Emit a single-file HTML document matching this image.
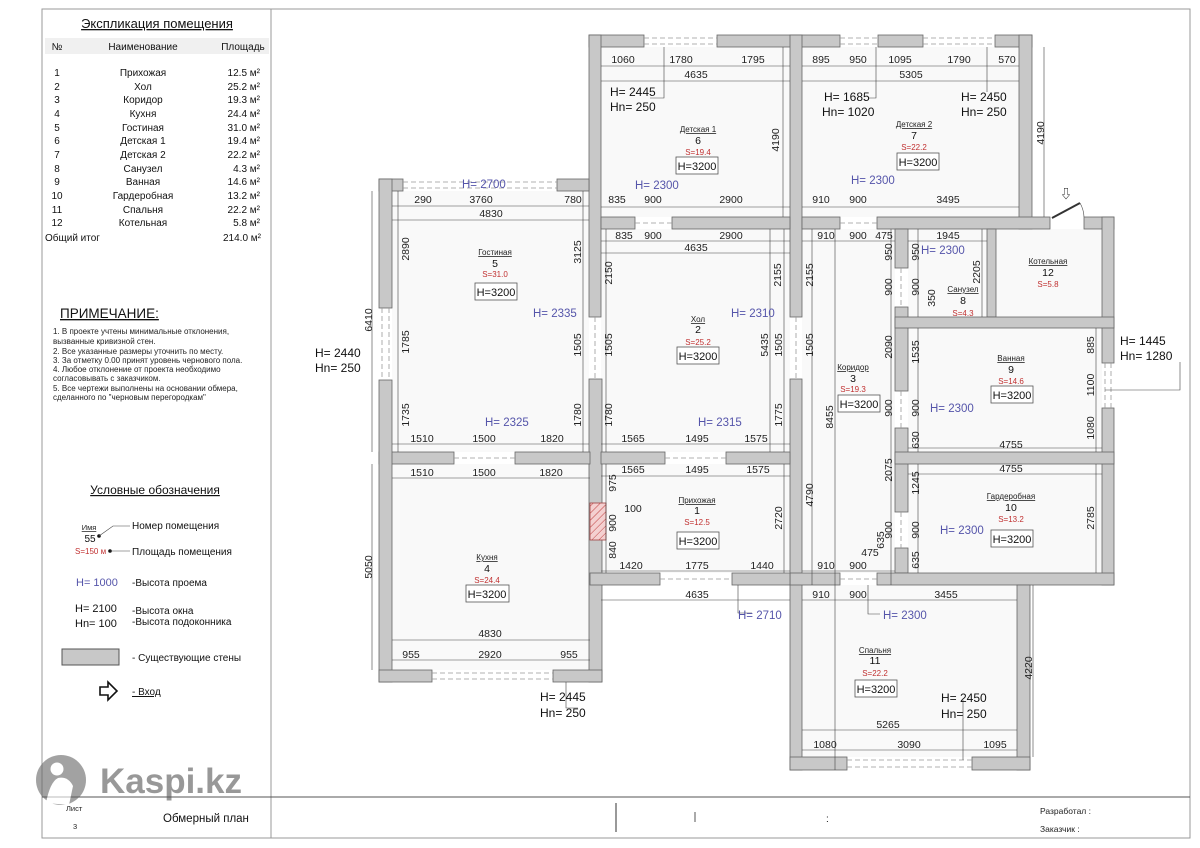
<!DOCTYPE html>
<html><head><meta charset="utf-8">
<style>
html,body{margin:0;padding:0;background:#fff;}
svg{display:block;font-family:"Liberation Sans","Noto Sans CJK SC",sans-serif;}
.d{font-size:10.5px;fill:#222;text-anchor:middle;}
.h{font-size:11.5px;fill:#5555aa;}
.w{font-size:12px;fill:#111;}
.rn{font-size:8px;fill:#222;text-anchor:middle;text-decoration:underline;}
.num{font-size:10.5px;fill:#111;text-anchor:middle;}
.s{font-size:8px;fill:#c03030;text-anchor:middle;}
.bx{font-size:11px;fill:#111;text-anchor:middle;}
.wall{fill:#c8c8c8;stroke:#666;stroke-width:0.8;}
.dl{stroke:#444;stroke-width:0.6;fill:none;}
.dash{stroke:#999;stroke-width:0.8;stroke-dasharray:5,3;fill:none;}
.t{font-size:10px;fill:#111;}
</style></head><body>
<svg width="1200" height="848" viewBox="0 0 1200 848" xmlns="http://www.w3.org/2000/svg">
<rect x="42" y="9" width="1148" height="829" fill="#fff" stroke="#999" stroke-width="1"/>
<line x1="271" y1="9" x2="271" y2="838" stroke="#999"/>
<line x1="42" y1="797" x2="1190" y2="797" stroke="#555"/>
<line x1="616" y1="803" x2="616" y2="832" stroke="#555" stroke-width="1.2"/>
<line x1="695" y1="812" x2="695" y2="822" stroke="#555"/>
<text x="826" y="822" class="t">:</text>

<rect x="45" y="38" width="224" height="16" fill="#f0f0f0"/>
<text x="157" y="28" font-size="13" text-anchor="middle" text-decoration="underline" fill="#111">Экспликация помещения</text>
<g font-size="10" fill="#111">
<text x="57" y="50" text-anchor="middle">№</text>
<text x="143" y="50" text-anchor="middle">Наименование</text>
<text x="243" y="50" text-anchor="middle">Площадь</text>
</g>
<g font-size="10" fill="#111">
<text x="57" y="76" text-anchor="middle">1</text><text x="143" y="76" text-anchor="middle">Прихожая</text><text x="260" y="76" text-anchor="end">12.5 м²</text>
<text x="57" y="90" text-anchor="middle">2</text><text x="143" y="90" text-anchor="middle">Хол</text><text x="260" y="90" text-anchor="end">25.2 м²</text>
<text x="57" y="103" text-anchor="middle">3</text><text x="143" y="103" text-anchor="middle">Коридор</text><text x="260" y="103" text-anchor="end">19.3 м²</text>
<text x="57" y="117" text-anchor="middle">4</text><text x="143" y="117" text-anchor="middle">Кухня</text><text x="260" y="117" text-anchor="end">24.4 м²</text>
<text x="57" y="131" text-anchor="middle">5</text><text x="143" y="131" text-anchor="middle">Гостиная</text><text x="260" y="131" text-anchor="end">31.0 м²</text>
<text x="57" y="144" text-anchor="middle">6</text><text x="143" y="144" text-anchor="middle">Детская 1</text><text x="260" y="144" text-anchor="end">19.4 м²</text>
<text x="57" y="158" text-anchor="middle">7</text><text x="143" y="158" text-anchor="middle">Детская 2</text><text x="260" y="158" text-anchor="end">22.2 м²</text>
<text x="57" y="172" text-anchor="middle">8</text><text x="143" y="172" text-anchor="middle">Санузел</text><text x="260" y="172" text-anchor="end">4.3 м²</text>
<text x="57" y="185" text-anchor="middle">9</text><text x="143" y="185" text-anchor="middle">Ванная</text><text x="260" y="185" text-anchor="end">14.6 м²</text>
<text x="57" y="199" text-anchor="middle">10</text><text x="143" y="199" text-anchor="middle">Гардеробная</text><text x="260" y="199" text-anchor="end">13.2 м²</text>
<text x="57" y="213" text-anchor="middle">11</text><text x="143" y="213" text-anchor="middle">Спальня</text><text x="260" y="213" text-anchor="end">22.2 м²</text>
<text x="57" y="226" text-anchor="middle">12</text><text x="143" y="226" text-anchor="middle">Котельная</text><text x="260" y="226" text-anchor="end">5.8 м²</text>
<text x="45" y="241">Общий итог</text><text x="261" y="241" text-anchor="end">214.0 м²</text>
</g>
<text x="60" y="318" font-size="13.5" fill="#111" text-decoration="underline">ПРИМЕЧАНИЕ:</text>
<g font-size="8" fill="#222">
<text x="53" y="334">1. В проекте учтены минимальные отклонения,</text>
<text x="53" y="344">вызванные кривизной стен.</text>
<text x="53" y="354">2. Все указанные размеры уточнить по месту.</text>
<text x="53" y="363">3. За отметку 0.00 принят уровень чернового пола.</text>
<text x="53" y="372">4. Любое отклонение от проекта необходимо</text>
<text x="53" y="381">согласовывать с заказчиком.</text>
<text x="53" y="391">5. Все чертежи выполнены на основании обмера,</text>
<text x="53" y="400">сделанного по "черновым перегородкам"</text>
</g>
<text x="155" y="494" font-size="12" fill="#111" text-anchor="middle" text-decoration="underline">Условные обозначения</text>
<text x="89" y="530" font-size="7.5" fill="#222" text-anchor="middle" text-decoration="underline">Имя</text>
<text x="90" y="542" font-size="10" fill="#111" text-anchor="middle">55</text>
<circle cx="99" cy="536" r="1.8" fill="#111"/>
<polyline points="99,536 113,526 130,526" class="dl"/>
<text x="132" y="529" font-size="10" fill="#111">Номер помещения</text>
<text x="75" y="554" font-size="8" fill="#c03030">S=150 м</text>
<circle cx="110" cy="551" r="1.8" fill="#111"/>
<line x1="110" y1="551" x2="130" y2="551" class="dl"/>
<text x="132" y="555" font-size="10" fill="#111">Площадь помещения</text>
<text x="76" y="586" font-size="11" fill="#5555aa">H= 1000</text>
<text x="132" y="586" font-size="10" fill="#111">-Высота проема</text>
<text x="75" y="612" font-size="11" fill="#111">H= 2100</text>
<text x="75" y="627" font-size="11" fill="#111">Hn= 100</text>
<text x="132" y="614" font-size="10" fill="#111">-Высота окна</text>
<text x="132" y="625" font-size="10" fill="#111">-Высота подоконника</text>
<rect x="62" y="649" width="57" height="16" fill="#c8c8c8" stroke="#555"/>
<text x="132" y="661" font-size="10" fill="#111">- Существующие стены</text>
<path d="M100,687 h8 v-5 l9,9 l-9,9 v-5 h-8 z" fill="#fff" stroke="#111" stroke-width="1.6"/>
<text x="132" y="695" font-size="10" fill="#111" text-decoration="underline">- Вход</text>
<!-- kaspi watermark -->
<g opacity="0.6">
<circle cx="61" cy="780" r="25" fill="#666"/>
<circle cx="57" cy="769" r="6.5" fill="#fff"/>
<path d="M46,803 q4,-21 12,-25 q10,-2 15,8 l-4,19z" fill="#fff"/>
<text x="100" y="793" font-size="35" font-weight="bold" fill="#555">Kaspi.kz</text>
</g>
<text x="66" y="811" font-size="7.5" fill="#222">Лист</text>
<text x="73" y="829" font-size="7.5" fill="#222">3</text>
<text x="163" y="822" font-size="11.5" fill="#111">Обмерный план</text>
<text x="1040" y="814" font-size="8.5" fill="#222">Разработал :</text>
<text x="1040" y="832" font-size="8.5" fill="#222">Заказчик :</text>

<g fill="#f9f9f9">
<rect x="601" y="47" width="189" height="170"/>
<rect x="802" y="47" width="217" height="170"/>
<rect x="392" y="191" width="197" height="261"/>
<rect x="601" y="229" width="189" height="223"/>
<rect x="392" y="464" width="198" height="206"/>
<rect x="601" y="464" width="189" height="109"/>
<rect x="802" y="229" width="93" height="344"/>
<rect x="908" y="229" width="79" height="88"/>
<rect x="996" y="229" width="106" height="88"/>
<rect x="908" y="328" width="194" height="124"/>
<rect x="908" y="464" width="194" height="109"/>
<rect x="802" y="585" width="215" height="172"/>
</g>

<g class="wall">
<rect x="589" y="35" width="55" height="12"/>
<rect x="717" y="35" width="123" height="12"/>
<rect x="878" y="35" width="45" height="12"/>
<rect x="995" y="35" width="37" height="12"/>
<rect x="589" y="35" width="12" height="282"/>
<rect x="589" y="379" width="13" height="303"/>
<rect x="790" y="35" width="12" height="282"/>
<rect x="790" y="379" width="12" height="391"/>
<rect x="1019" y="35" width="13" height="194"/>
<rect x="601" y="217" width="34" height="12"/>
<rect x="672" y="217" width="118" height="12"/>
<rect x="802" y="217" width="38" height="12"/>
<rect x="877" y="217" width="173" height="12"/>
<rect x="1084" y="217" width="30" height="12"/>
<rect x="1102" y="217" width="12" height="146"/>
<rect x="1102" y="408" width="12" height="177"/>
<rect x="895" y="229" width="13" height="39"/>
<rect x="895" y="307" width="13" height="84"/>
<rect x="895" y="428" width="13" height="84"/>
<rect x="895" y="548" width="13" height="25"/>
<rect x="987" y="229" width="9" height="88"/>
<rect x="895" y="317" width="219" height="11"/>
<rect x="895" y="452" width="219" height="12"/>
<rect x="790" y="573" width="50" height="12"/>
<rect x="877" y="573" width="237" height="12"/>
<rect x="1017" y="585" width="13" height="185"/>
<rect x="790" y="757" width="57" height="13"/>
<rect x="972" y="757" width="58" height="13"/>
<rect x="590" y="573" width="70" height="12"/>
<rect x="732" y="573" width="58" height="12"/>
<rect x="379" y="452" width="75" height="12"/>
<rect x="515" y="452" width="75" height="12"/>
<rect x="601" y="452" width="64" height="12"/>
<rect x="726" y="452" width="64" height="12"/>
<rect x="379" y="179" width="24" height="12"/>
<rect x="557" y="179" width="32" height="12"/>
<rect x="379" y="179" width="13" height="129"/>
<rect x="379" y="380" width="13" height="302"/>
<rect x="379" y="670" width="53" height="12"/>
<rect x="553" y="670" width="49" height="12"/>
</g>
<g class="dash">
<path d="M644,38 H717 M644,44 H717 M840,38 H878 M840,44 H878 M923,38 H995 M923,44 H995"/>
<path d="M403,182 H557 M403,188 H557 M382,308 V380 M389,308 V380 M432,673 H553 M432,679 H553"/>
<path d="M1105,363 V408 M1111,363 V408 M847,760 H972 M847,767 H972"/>
<path d="M635,223 H672 M840,223 H877 M595,317 V379 M796,317 V379 M454,458 H515 M665,458 H726 M660,579 H732 M840,579 H877"/>
<path d="M901,268 V307 M901,391 V428 M901,512 V548"/>
</g>
<defs><pattern id="hp" width="5" height="5" patternUnits="userSpaceOnUse" patternTransform="rotate(45)"><line x1="0" y1="0" x2="0" y2="5" stroke="#c04040" stroke-width="1"/></pattern></defs>
<rect x="590" y="503" width="16" height="37" fill="#f4d0d0" stroke="#a04040" stroke-width="0.8"/>
<rect x="590" y="503" width="16" height="37" fill="url(#hp)"/>
<line x1="1052" y1="218" x2="1080" y2="203" stroke="#333" stroke-width="2"/>
<path d="M1080,203 A30,30 0 0 1 1084,217" class="dl"/>
<text x="1066" y="198" font-size="12" text-anchor="middle" fill="#111">⇩</text>

<g class="dl">
<path d="M601,66 H790 M601,81 H790 M802,66 H1019 M802,81 H1019 M601,207 H790 M802,207 H1019"/>
<path d="M392,206 H589 M392,220 H589 M601,241 H790 M601,253 H790 M802,241 H895 M908,241 H987"/>
<path d="M392,444 H589 M601,444 H790 M392,478 H590 M601,476 H790 M908,448 H1102 M908,474 H1102"/>
<path d="M601,571 H790 M601,600 H790 M802,571 H895 M802,600 H1017 M392,640 H590 M392,660 H590 M802,730 H1017 M802,750 H1017"/>
<path d="M783,47 V217 M1044,47 V217 M372,191 V452 M372,464 V670 M398,191 V452 M583,191 V452"/>
<path d="M606,229 V452 M784,229 V452 M770,229 V452 M812,229 V585 M835,229 V770 M891,229 V585"/>
<path d="M918,229 V317 M918,328 V452 M918,464 V573 M1096,328 V452 M1096,464 V573 M1033,585 V757 M606,464 V573 M784,464 V573 M982,229 V317"/>
<path d="M664,47 V98 H650 M876,47 V98 H868 M987,47 V92 M566,682 V708 H578 M963,700 V760 M1105,390 H1180 V362 M738,585 V613 H752 M868,585 V614 H880"/>
</g>

<text x="623" y="63" class="d">1060</text><text x="681" y="63" class="d">1780</text><text x="753" y="63" class="d">1795</text>
<text x="696" y="78" class="d">4635</text>
<text x="610" y="96" class="w">H= 2445</text><text x="610" y="111" class="w">Hn= 250</text>
<text x="698" y="132" class="rn">Детская 1</text><text x="698" y="144" class="num">6</text><text x="698" y="155" class="s">S=19.4</text>
<rect x="676" y="157" width="42" height="17" fill="#fff" stroke="#555" stroke-width="0.8"/><text x="697" y="170" class="bx">H=3200</text>
<text transform="translate(779,140) rotate(-90)" class="d">4190</text>
<text x="635" y="189" class="h">H= 2300</text>
<text x="617" y="203" class="d">835</text><text x="653" y="203" class="d">900</text><text x="731" y="203" class="d">2900</text>
<text x="821" y="63" class="d">895</text><text x="858" y="63" class="d">950</text><text x="900" y="63" class="d">1095</text><text x="959" y="63" class="d">1790</text><text x="1007" y="63" class="d">570</text>
<text x="911" y="78" class="d">5305</text>
<text x="824" y="101" class="w">H= 1685</text><text x="822" y="116" class="w">Hn= 1020</text>
<text x="961" y="101" class="w">H= 2450</text><text x="961" y="116" class="w">Hn= 250</text>
<text x="914" y="127" class="rn">Детская 2</text><text x="914" y="139" class="num">7</text><text x="914" y="150" class="s">S=22.2</text>
<rect x="897" y="153" width="42" height="17" fill="#fff" stroke="#555" stroke-width="0.8"/><text x="918" y="166" class="bx">H=3200</text>
<text transform="translate(1044,133) rotate(-90)" class="d">4190</text>
<text x="851" y="184" class="h">H= 2300</text>
<text x="821" y="203" class="d">910</text><text x="858" y="203" class="d">900</text><text x="948" y="203" class="d">3495</text>
<text x="462" y="188" class="h">H= 2700</text>
<text x="423" y="203" class="d">290</text><text x="481" y="203" class="d">3760</text><text x="573" y="203" class="d">780</text>
<text x="491" y="217" class="d">4830</text>
<text transform="translate(409,249) rotate(-90)" class="d">2890</text>
<text transform="translate(581,252) rotate(-90)" class="d">3125</text>
<text x="495" y="255" class="rn">Гостиная</text><text x="495" y="267" class="num">5</text><text x="495" y="277" class="s">S=31.0</text>
<rect x="475" y="283" width="42" height="17" fill="#fff" stroke="#555" stroke-width="0.8"/><text x="496" y="296" class="bx">H=3200</text>
<text x="533" y="317" class="h">H= 2335</text>
<text transform="translate(409,342) rotate(-90)" class="d">1785</text>
<text transform="translate(581,345) rotate(-90)" class="d">1505</text>
<text transform="translate(409,415) rotate(-90)" class="d">1735</text>
<text transform="translate(581,415) rotate(-90)" class="d">1780</text>
<text x="485" y="426" class="h">H= 2325</text>
<text x="422" y="442" class="d">1510</text><text x="484" y="442" class="d">1500</text><text x="552" y="442" class="d">1820</text>
<text transform="translate(372,320) rotate(-90)" class="d">6410</text>
<text x="315" y="357" class="w">H= 2440</text><text x="315" y="372" class="w">Hn= 250</text>
<text x="624" y="239" class="d">835</text><text x="653" y="239" class="d">900</text><text x="731" y="239" class="d">2900</text>
<text x="696" y="251" class="d">4635</text>
<text transform="translate(612,273) rotate(-90)" class="d">2150</text>
<text transform="translate(781,275) rotate(-90)" class="d">2155</text>
<text x="698" y="322" class="rn">Хол</text><text x="698" y="333" class="num">2</text><text x="698" y="345" class="s">S=25.2</text>
<rect x="677" y="347" width="42" height="17" fill="#fff" stroke="#555" stroke-width="0.8"/><text x="698" y="360" class="bx">H=3200</text>
<text x="731" y="317" class="h">H= 2310</text>
<text transform="translate(612,345) rotate(-90)" class="d">1505</text>
<text transform="translate(768,345) rotate(-90)" class="d">5435</text>
<text transform="translate(782,345) rotate(-90)" class="d">1505</text>
<text transform="translate(612,415) rotate(-90)" class="d">1780</text>
<text transform="translate(782,415) rotate(-90)" class="d">1775</text>
<text x="698" y="426" class="h">H= 2315</text>
<text x="633" y="442" class="d">1565</text><text x="697" y="442" class="d">1495</text><text x="756" y="442" class="d">1575</text>
<text x="422" y="476" class="d">1510</text><text x="484" y="476" class="d">1500</text><text x="551" y="476" class="d">1820</text>
<text x="487" y="560" class="rn">Кухня</text><text x="487" y="572" class="num">4</text><text x="487" y="583" class="s">S=24.4</text>
<rect x="466" y="585" width="43" height="17" fill="#fff" stroke="#555" stroke-width="0.8"/><text x="487" y="598" class="bx">H=3200</text>
<text transform="translate(372,567) rotate(-90)" class="d">5050</text>
<text x="490" y="637" class="d">4830</text>
<text x="411" y="658" class="d">955</text><text x="490" y="658" class="d">2920</text><text x="569" y="658" class="d">955</text>
<text x="540" y="701" class="w">H= 2445</text><text x="540" y="717" class="w">Hn= 250</text>
<text x="633" y="473" class="d">1565</text><text x="697" y="473" class="d">1495</text><text x="758" y="473" class="d">1575</text>
<text transform="translate(616,483) rotate(-90)" class="d">975</text>
<text transform="translate(616,523) rotate(-90)" class="d">900</text>
<text transform="translate(616,550) rotate(-90)" class="d">840</text>
<text x="633" y="512" class="d">100</text>
<text x="697" y="503" class="rn">Прихожая</text><text x="697" y="514" class="num">1</text><text x="697" y="525" class="s">S=12.5</text>
<rect x="677" y="532" width="42" height="17" fill="#fff" stroke="#555" stroke-width="0.8"/><text x="698" y="545" class="bx">H=3200</text>
<text transform="translate(782,518) rotate(-90)" class="d">2720</text>
<text x="631" y="569" class="d">1420</text><text x="697" y="569" class="d">1775</text><text x="762" y="569" class="d">1440</text>
<text x="697" y="598" class="d">4635</text>
<text x="738" y="619" class="h">H= 2710</text>
<text x="826" y="239" class="d">910</text><text x="858" y="239" class="d">900</text><text x="884" y="239" class="d">475</text>
<text transform="translate(813,275) rotate(-90)" class="d">2155</text>
<text transform="translate(813,345) rotate(-90)" class="d">1505</text>
<text transform="translate(833,417) rotate(-90)" class="d">8455</text>
<text transform="translate(813,495) rotate(-90)" class="d">4790</text>
<text x="853" y="370" class="rn">Коридор</text><text x="853" y="382" class="num">3</text><text x="853" y="392" class="s">S=19.3</text>
<rect x="838" y="395" width="42" height="17" fill="#fff" stroke="#555" stroke-width="0.8"/><text x="859" y="408" class="bx">H=3200</text>
<text transform="translate(892,252) rotate(-90)" class="d">950</text>
<text transform="translate(892,287) rotate(-90)" class="d">900</text>
<text transform="translate(892,347) rotate(-90)" class="d">2090</text>
<text transform="translate(892,408) rotate(-90)" class="d">900</text>
<text transform="translate(892,470) rotate(-90)" class="d">2075</text>
<text transform="translate(892,530) rotate(-90)" class="d">900</text>
<text transform="translate(884,540) rotate(-90)" class="d">635</text>
<text x="870" y="556" class="d">475</text>
<text x="826" y="569" class="d">910</text><text x="858" y="569" class="d">900</text>
<text x="948" y="239" class="d">1945</text>
<text transform="translate(919,252) rotate(-90)" class="d">950</text>
<text x="921" y="254" class="h">H= 2300</text>
<text transform="translate(919,287) rotate(-90)" class="d">900</text>
<text transform="translate(935,298) rotate(-90)" class="d">350</text>
<text transform="translate(980,272) rotate(-90)" class="d">2205</text>
<text x="963" y="292" class="rn">Санузел</text><text x="963" y="304" class="num">8</text><text x="963" y="316" class="s">S=4.3</text>
<text x="1048" y="264" class="rn">Котельная</text><text x="1048" y="276" class="num">12</text><text x="1048" y="287" class="s">S=5.8</text>
<text transform="translate(919,352) rotate(-90)" class="d">1535</text>
<text transform="translate(1094,345) rotate(-90)" class="d">885</text>
<text x="1011" y="361" class="rn">Ванная</text><text x="1011" y="373" class="num">9</text><text x="1011" y="384" class="s">S=14.6</text>
<rect x="991" y="386" width="42" height="17" fill="#fff" stroke="#555" stroke-width="0.8"/><text x="1012" y="399" class="bx">H=3200</text>
<text transform="translate(1094,385) rotate(-90)" class="d">1100</text>
<text transform="translate(1094,428) rotate(-90)" class="d">1080</text>
<text transform="translate(919,408) rotate(-90)" class="d">900</text>
<text x="930" y="412" class="h">H= 2300</text>
<text transform="translate(919,440) rotate(-90)" class="d">630</text>
<text x="1011" y="448" class="d">4755</text>
<text x="1120" y="345" class="w">H= 1445</text><text x="1120" y="360" class="w">Hn= 1280</text>
<text x="1011" y="472" class="d">4755</text>
<text transform="translate(919,483) rotate(-90)" class="d">1245</text>
<text transform="translate(919,530) rotate(-90)" class="d">900</text>
<text transform="translate(919,560) rotate(-90)" class="d">635</text>
<text x="1011" y="499" class="rn">Гардеробная</text><text x="1011" y="511" class="num">10</text><text x="1011" y="522" class="s">S=13.2</text>
<rect x="991" y="530" width="42" height="17" fill="#fff" stroke="#555" stroke-width="0.8"/><text x="1012" y="543" class="bx">H=3200</text>
<text x="940" y="534" class="h">H= 2300</text>
<text transform="translate(1094,518) rotate(-90)" class="d">2785</text>
<text x="821" y="598" class="d">910</text><text x="858" y="598" class="d">900</text><text x="946" y="598" class="d">3455</text>
<text x="883" y="619" class="h">H= 2300</text>
<text x="875" y="653" class="rn">Спальня</text><text x="875" y="664" class="num">11</text><text x="875" y="676" class="s">S=22.2</text>
<rect x="855" y="680" width="42" height="17" fill="#fff" stroke="#555" stroke-width="0.8"/><text x="876" y="693" class="bx">H=3200</text>
<text transform="translate(1032,668) rotate(-90)" class="d">4220</text>
<text x="941" y="702" class="w">H= 2450</text><text x="941" y="718" class="w">Hn= 250</text>
<text x="888" y="728" class="d">5265</text>
<text x="825" y="748" class="d">1080</text><text x="909" y="748" class="d">3090</text><text x="995" y="748" class="d">1095</text>
</svg>
</body></html>
